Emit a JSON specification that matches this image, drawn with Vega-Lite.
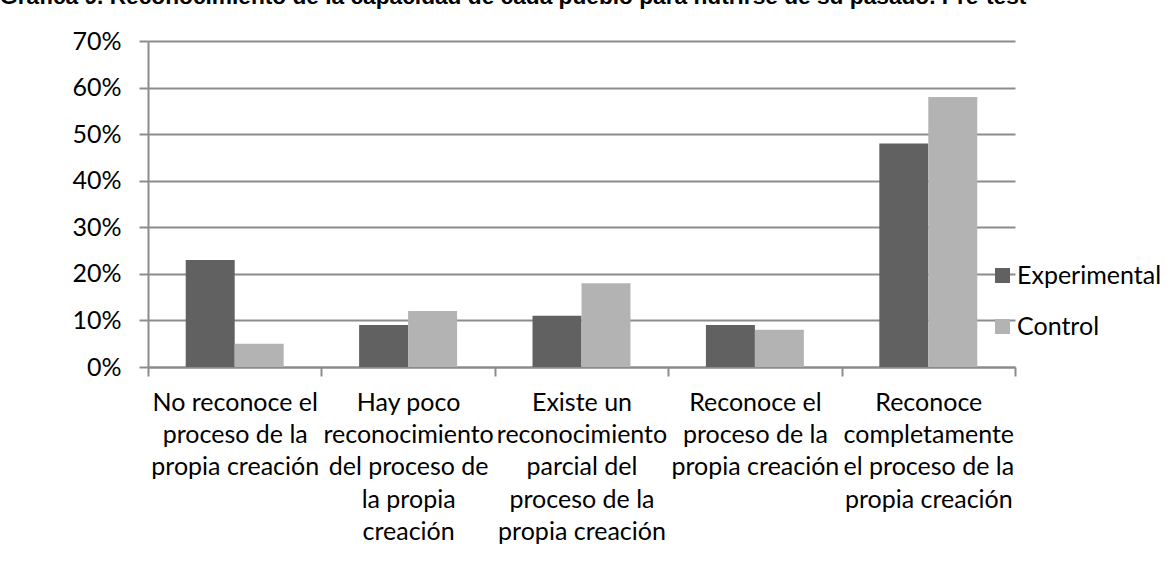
{
  "$schema": "https://vega.github.io/schema/vega-lite/v6.json",
  "width": 867,
  "height": 326,
  "autosize": {"type": "none"},
  "padding": {"left": 148, "top": 41, "right": 161, "bottom": 215},
  "background": "white",
  "title": {
    "text": "Gráfica 9. Reconocimiento de la capacidad de cada pueblo para nutrirse de su pasado. Pre-test",
    "anchor": "start",
    "frame": "group",
    "font": "Liberation Sans",
    "fontWeight": "bold",
    "fontSize": 22.7,
    "color": "#000000",
    "baseline": "alphabetic",
    "offset": 0,
    "dx": -148,
    "dy": -2
  },
  "data": {
    "values": [
      {"categoria": "No reconoce el proceso de la propia creación", "grupo": "Experimental", "valor": 0.23},
      {"categoria": "No reconoce el proceso de la propia creación", "grupo": "Control", "valor": 0.05},
      {"categoria": "Hay poco reconocimiento del proceso de la propia creación", "grupo": "Experimental", "valor": 0.09},
      {"categoria": "Hay poco reconocimiento del proceso de la propia creación", "grupo": "Control", "valor": 0.12},
      {"categoria": "Existe un reconocimiento parcial del proceso de la propia creación", "grupo": "Experimental", "valor": 0.11},
      {"categoria": "Existe un reconocimiento parcial del proceso de la propia creación", "grupo": "Control", "valor": 0.18},
      {"categoria": "Reconoce el proceso de la propia creación", "grupo": "Experimental", "valor": 0.09},
      {"categoria": "Reconoce el proceso de la propia creación", "grupo": "Control", "valor": 0.08},
      {"categoria": "Reconoce completamente el proceso de la propia creación", "grupo": "Experimental", "valor": 0.48},
      {"categoria": "Reconoce completamente el proceso de la propia creación", "grupo": "Control", "valor": 0.58}
    ]
  },
  "mark": {"type": "bar"},
  "encoding": {
    "x": {
      "field": "categoria",
      "type": "nominal",
      "sort": null,
      "scale": {"paddingInner": 0, "paddingOuter": 0},
      "axis": {
        "title": null,
        "labelAngle": 0,
        "tickBand": "extent",
        "tickSize": 9,
        "tickColor": "#8c8c8c",
        "tickWidth": 2,
        "domainColor": "#8c8c8c",
        "domainWidth": 2,
        "grid": false,
        "labelFont": "Lato",
        "labelFontSize": 25,
        "labelColor": "#000000",
        "labelLineHeight": 32.4,
        "labelBaseline": "top",
        "labelPadding": 14,
        "labelLimit": 0,
        "labelOverlap": false,
        "labelBound": false,
        "labelFlush": false,
        "labelExpr": "datum.value == 'No reconoce el proceso de la propia creación' ? ['No reconoce el', 'proceso de la', 'propia creación'] : datum.value == 'Hay poco reconocimiento del proceso de la propia creación' ? ['Hay poco', 'reconocimiento', 'del proceso de', 'la propia', 'creación'] : datum.value == 'Existe un reconocimiento parcial del proceso de la propia creación' ? ['Existe un', 'reconocimiento', 'parcial del', 'proceso de la', 'propia creación'] : datum.value == 'Reconoce el proceso de la propia creación' ? ['Reconoce el', 'proceso de la', 'propia creación'] : datum.value == 'Reconoce completamente el proceso de la propia creación' ? ['Reconoce', 'completamente', 'el proceso de la', 'propia creación'] : ''"
      }
    },
    "xOffset": {
      "field": "grupo",
      "type": "nominal",
      "sort": ["Experimental", "Control"],
      "scale": {"paddingInner": 0, "paddingOuter": 0.77}
    },
    "y": {
      "field": "valor",
      "type": "quantitative",
      "scale": {"domain": [0, 0.7], "nice": false},
      "axis": {
        "title": null,
        "values": [0, 0.1, 0.2, 0.3, 0.4, 0.5, 0.6, 0.7],
        "format": ".0%",
        "grid": true,
        "gridColor": "#8c8c8c",
        "gridWidth": 2,
        "domainColor": "#8c8c8c",
        "domainWidth": 2,
        "tickColor": "#8c8c8c",
        "tickWidth": 2,
        "tickSize": 9,
        "labelPadding": 18,
        "labelFont": "Lato",
        "labelFontSize": 25,
        "labelColor": "#000000"
      }
    },
    "color": {
      "field": "grupo",
      "type": "nominal",
      "sort": ["Experimental", "Control"],
      "scale": {"range": ["#616161", "#b3b3b3"]},
      "legend": {
        "orient": "none",
        "legendX": 842,
        "legendY": 222,
        "padding": 0,
        "title": null,
        "symbolType": "square",
        "symbolSize": 225,
        "symbolStrokeWidth": 0,
        "labelFont": "Lato",
        "labelFontSize": 25,
        "labelColor": "#000000",
        "labelOffset": 2,
        "labelLimit": 0,
        "rowPadding": 25
      }
    }
  },
  "config": {"view": {"stroke": null}}
}
